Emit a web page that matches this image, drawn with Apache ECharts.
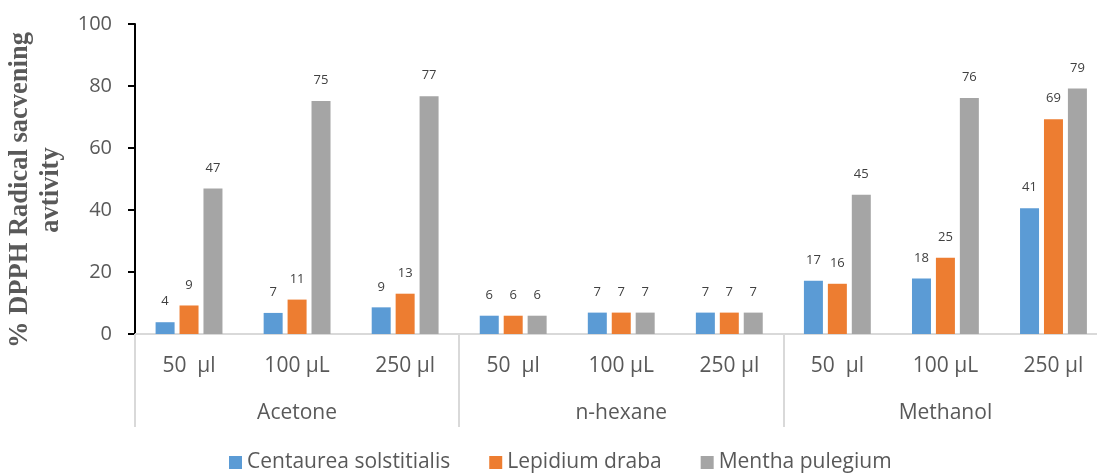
<!DOCTYPE html>
<html>
<head>
<meta charset="utf-8">
<script src="https://cdn.jsdelivr.net/npm/echarts@6/dist/echarts.min.js"></script>
<style>
html,body{margin:0;padding:0;background:#fff;}
#chart{width:1097px;height:473px;}
</style>
</head>
<body>
<div id="chart"></div>
<script>
const doseLabels = ['50  µl', '100 µL', '250 µl', '50  µl', '100 µL', '250 µl', '50  µl', '100 µL', '250 µl'];
const solventLabels = ['Acetone', 'n-hexane', 'Methanol'];
const seriesNames = ['Centaurea solstitialis', 'Lepidium draba', 'Mentha pulegium'];
const centaurea = [3.8, 6.8, 8.6, 5.9, 6.9, 6.9, 17.2, 17.9, 40.6];
const lepidium = [9.2, 11.1, 13.0, 5.9, 6.9, 6.9, 16.2, 24.6, 69.3];
const mentha = [46.9, 75.2, 76.7, 5.9, 6.9, 6.9, 44.9, 76.1, 79.2];
const yTicks = [0, 20, 40, 60, 80, 100];

const colors = ['#5B9BD5', '#ED7D31', '#A5A5A5'];
const font = '"Open Sans", "Noto Sans", sans-serif';

const chart = echarts.init(document.getElementById('chart'));
function bar(name, data, color) {
  return {
    name: name,
    type: 'bar',
    data: data,
    xAxisIndex: 0,
    barWidth: 19,
    barGap: '26%',
    itemStyle: { color: color },
    label: {
      show: true,
      position: 'top',
      distance: 14,
      color: '#404040',
      fontSize: 13,
      fontFamily: font,
      formatter: p => Math.round(p.value)
    }
  };
}
chart.setOption({
  animation: false,
  color: colors,
  textStyle: { fontFamily: font },
  grid: { left: 135, top: 24, width: 972.5, height: 310, containLabel: false, outerBoundsMode: 'none' },
  legend: {
    data: seriesNames,
    left: 229, top: 452, padding: 0,
    icon: 'rect', itemWidth: 13, itemHeight: 13, itemGap: 39,
    textStyle: { fontSize: 21, lineHeight: 21, color: '#595959', fontFamily: font }
  },
  xAxis: [
    {
      type: 'category', data: doseLabels, position: 'bottom',
      axisLine: { show: true, lineStyle: { color: '#D9D9D9', width: 2 } },
      axisTick: { show: false },
      axisLabel: { interval: 0, fontSize: 21, color: '#595959', margin: 22, fontFamily: font }
    },
    {
      type: 'category', data: solventLabels, position: 'bottom',
      axisLine: { show: false },
      axisTick: { show: true, length: 93, lineStyle: { color: '#D9D9D9', width: 2 } },
      axisLabel: { interval: 0, fontSize: 21, color: '#595959', margin: 69, fontFamily: font }
    }
  ],
  yAxis: {
    type: 'value', min: yTicks[0], max: yTicks[yTicks.length - 1], interval: 20,
    name: '% DPPH Radical sacvening\navtivity',
    nameLocation: 'middle', nameGap: 54,
    nameTextStyle: {
      fontFamily: '"Liberation Serif", "Times New Roman", serif',
      fontWeight: 'bold', fontSize: 26.5, color: '#595959', lineHeight: 31,
      padding: [0, 22, 0, 0]
    },
    axisLine: { show: true, lineStyle: { color: '#000', width: 2 } },
    axisTick: { show: true, length: 7, lineStyle: { color: '#000', width: 2 } },
    splitLine: { show: false },
    axisLabel: { fontSize: 20, color: '#595959', margin: 23, fontFamily: font }
  },
  series: [
    bar(seriesNames[0], centaurea, colors[0]),
    bar(seriesNames[1], lepidium, colors[1]),
    bar(seriesNames[2], mentha, colors[2])
  ]
});
</script>
</body>
</html>
